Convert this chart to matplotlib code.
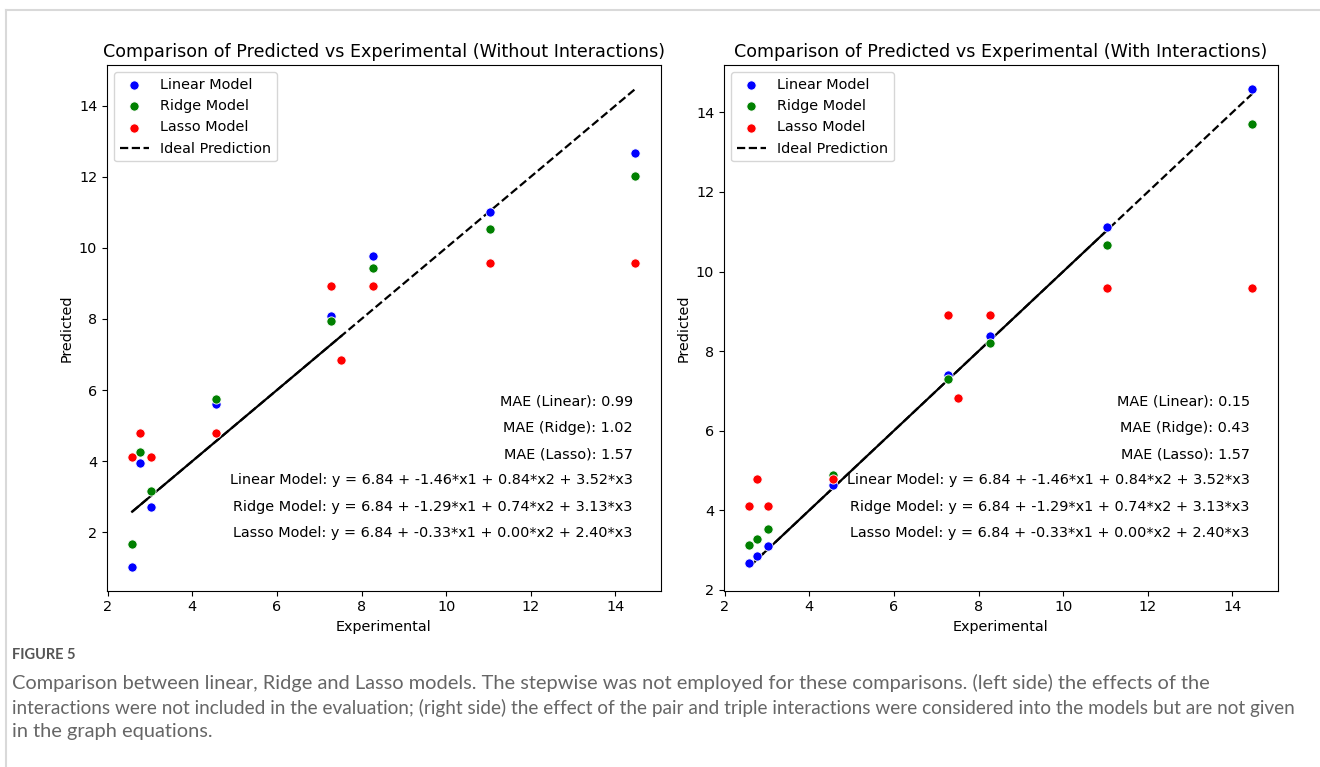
import matplotlib
matplotlib.use("Agg")
from matplotlib import pyplot as plt
from matplotlib.lines import Line2D

# experimental values (x) shared by the models
exp_x = [2.58, 2.76, 3.02, 4.55, 7.29, 7.52, 8.28, 11.03, 14.47]
exp_x8 = [2.58, 2.76, 3.02, 4.55, 7.29, 8.28, 11.03, 14.47]

# left panel (without interactions)
lin_noint = [1.03, 3.95, 2.70, 5.62, 8.08, 9.76, 11.00, 12.67]
rid_noint = [1.67, 4.27, 3.17, 5.76, 7.94, 9.43, 10.53, 12.03]
las_noint = [4.12, 4.78, 4.12, 4.78, 8.92, 6.84, 8.92, 9.57, 9.57]

# right panel (with interactions)
lin_int = [2.67, 2.85, 3.11, 4.63, 7.39, 8.38, 11.12, 14.59]
rid_int = [3.13, 3.29, 3.53, 4.89, 7.30, 8.20, 10.66, 13.72]
las_int = [4.11, 4.78, 4.11, 4.78, 8.90, 6.83, 8.90, 9.58, 9.58]

solid_end = [7.52, 11.03]

titles = ["Comparison of Predicted vs Experimental (Without Interactions)",
          "Comparison of Predicted vs Experimental (With Interactions)"]
mae = [["MAE (Linear): 0.99", "MAE (Ridge): 1.02", "MAE (Lasso): 1.57"],
       ["MAE (Linear): 0.15", "MAE (Ridge): 0.43", "MAE (Lasso): 1.57"]]
eqs = ["Linear Model: y = 6.84 + -1.46*x1 + 0.84*x2 + 3.52*x3",
       "Ridge Model: y = 6.84 + -1.29*x1 + 0.74*x2 + 3.13*x3",
       "Lasso Model: y = 6.84 + -0.33*x1 + 0.00*x2 + 2.40*x3"]

caption_head = "FIGURE 5"
caption = ["Comparison between linear, Ridge and Lasso models. The stepwise was not employed for these comparisons. (left side) the effects of the",
           "interactions were not included in the evaluation; (right side) the effect of the pair and triple interactions were considered into the models but are not given",
           "in the graph equations."]

W, H = 1320, 767
fig = plt.figure(figsize=(W/100, H/100), dpi=100)

# card border (top and left)
fig.add_artist(Line2D([6/W, 1], [1-10/H, 1-10/H], color="#d9d9d9", lw=1.5))
fig.add_artist(Line2D([6/W, 6/W], [0, 1-10/H], color="#d9d9d9", lw=1.5))

fs = 10.4
panels = [(lin_noint, rid_noint, las_noint), (lin_int, rid_int, las_int)]
lefts = [107, 724]
for i, (lin, rid, las) in enumerate(panels):
    ax = fig.add_axes([lefts[i]/W, (H-590.7)/H, 553.5/W, 525.7/H])
    kw = dict(s=44, edgecolor="white", linewidth=0.6, zorder=3)
    ax.scatter(exp_x8, lin, color="blue", label="Linear Model", **kw)
    ax.scatter(exp_x8, rid, color="green", label="Ridge Model", **kw)
    ax.scatter(exp_x, las, color="red", label="Lasso Model", **kw)
    lo, hi = min(exp_x), max(exp_x)
    ax.plot([lo, hi], [lo, hi], "k--", lw=1.6, label="Ideal Prediction")
    ax.plot([lo, solid_end[i]], [lo, solid_end[i]], "k-", lw=1.6)
    ax.set_title(titles[i], fontsize=12.6)
    ax.set_xlabel("Experimental", fontsize=fs)
    ax.set_ylabel("Predicted", fontsize=fs)
    ax.tick_params(labelsize=fs)
    ax.legend(loc="upper left", fontsize=fs)
    ys = [0.36, 0.31, 0.26, 0.21, 0.16, 0.11]
    for t, y in zip(mae[i] + eqs, ys):
        ax.text(0.95, y, t, transform=ax.transAxes, ha="right", va="center", fontsize=fs)

# caption under the figure
fig.text(12/W, 1-655/H, caption_head, fontsize=10.5, color="#555555",
         family=["Lato", "DejaVu Sans"], fontweight="bold", va="center")
r = fig.canvas.get_renderer()
cfs = 12.5
for k, (line, yp) in enumerate(zip(caption, [683, 708, 732])):
    t = fig.text(12/W, 1-yp/H, line, fontsize=12.5, color="#666666",
                 family=["Lato", "DejaVu Sans"], va="center")
    w = t.get_window_extent(renderer=r).width
    if k == 0:
        cfs = 12.5*(1213-12)/w
        t.set_fontsize(cfs)
    elif k == 1:
        t.set_fontsize(min(cfs, 12.5*(1298-12)/w))
    else:
        t.set_fontsize(cfs)

fig.savefig("out.png", dpi=100)
